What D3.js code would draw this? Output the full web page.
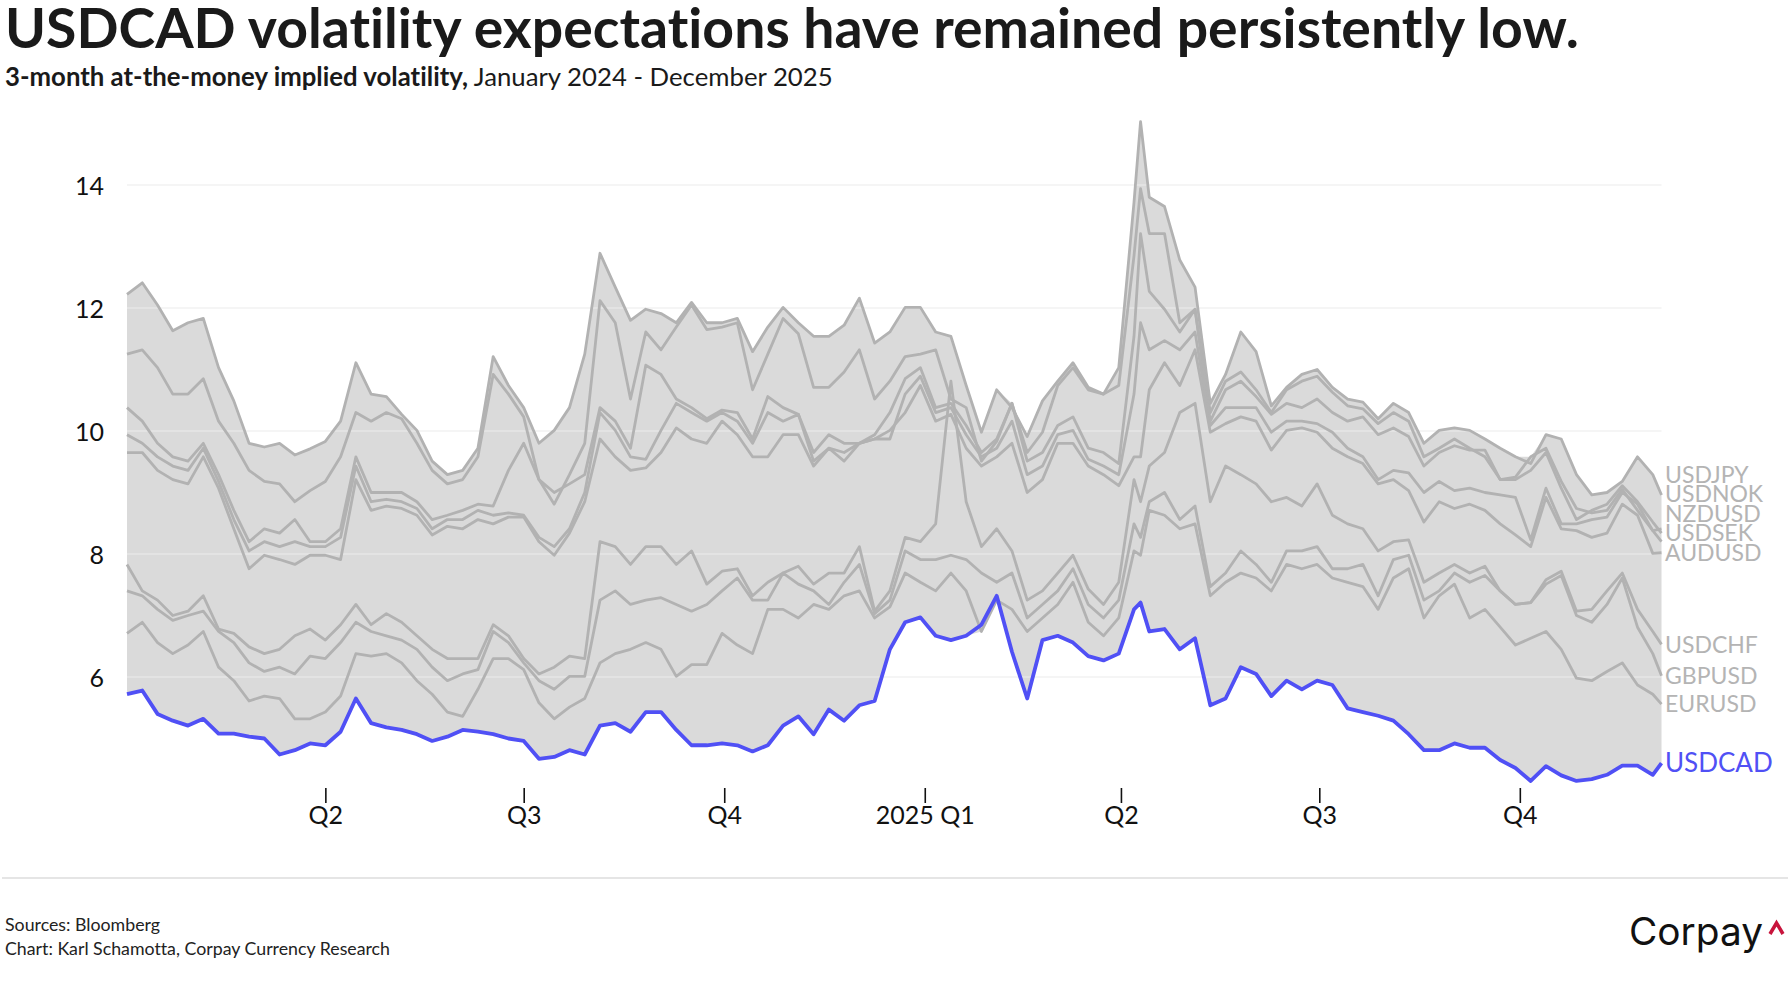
<!DOCTYPE html>
<html>
<head>
<meta charset="utf-8">
<script src="https://cdn.jsdelivr.net/npm/d3@7"></script>
<style>
  body { margin: 0; background: #fff; }
  svg { display: block; font-family: Lato, "Noto Sans", sans-serif; }
  svg text { font-variant-ligatures: none; font-feature-settings: "liga" 0, "clig" 0, "dlig" 0, "calt" 0; }
</style>
</head>
<body>
<svg id="chart" width="1790" height="1000"></svg>
<script>
// weekly samples (Mondays) plus the April 2025 spike and the last print
const dates = [
  "2024-01-01","2024-01-08","2024-01-15","2024-01-22","2024-01-29","2024-02-05","2024-02-12","2024-02-19","2024-02-26",
  "2024-03-04","2024-03-11","2024-03-18","2024-03-25","2024-04-01","2024-04-08","2024-04-15","2024-04-22","2024-04-29",
  "2024-05-06","2024-05-13","2024-05-20","2024-05-27","2024-06-03","2024-06-10","2024-06-17","2024-06-24","2024-07-01",
  "2024-07-08","2024-07-15","2024-07-22","2024-07-29","2024-08-05","2024-08-12","2024-08-19","2024-08-26","2024-09-02",
  "2024-09-09","2024-09-16","2024-09-23","2024-09-30","2024-10-07","2024-10-14","2024-10-21","2024-10-28","2024-11-04",
  "2024-11-11","2024-11-18","2024-11-25","2024-12-02","2024-12-09","2024-12-16","2024-12-23","2024-12-30",
  "2025-01-06","2025-01-13","2025-01-20","2025-01-27","2025-02-03","2025-02-10","2025-02-17","2025-02-24","2025-03-03",
  "2025-03-10","2025-03-17","2025-03-24","2025-03-31","2025-04-07","2025-04-10","2025-04-14","2025-04-21","2025-04-28",
  "2025-05-05","2025-05-12","2025-05-19","2025-05-26","2025-06-02","2025-06-09","2025-06-16","2025-06-23","2025-06-30",
  "2025-07-07","2025-07-14","2025-07-21","2025-07-28","2025-08-04","2025-08-11","2025-08-18","2025-08-25","2025-09-01",
  "2025-09-08","2025-09-15","2025-09-22","2025-09-29","2025-10-06","2025-10-13","2025-10-20","2025-10-27","2025-11-03",
  "2025-11-10","2025-11-17","2025-11-24","2025-12-01","2025-12-05"
];

const usdjpy = [12.22,12.41,12.05,11.63,11.76,11.83,11.03,10.49,9.8,9.74,9.8,9.61,9.71,9.83,10.16,11.11,10.6,10.56,10.27,10.01,
  9.51,9.29,9.36,9.72,11.21,10.74,10.38,9.8,10.01,10.38,11.25,12.89,12.34,11.8,11.98,11.91,11.76,12.09,11.76,11.76,
  11.83,11.29,11.69,12.01,11.76,11.54,11.54,11.72,12.16,11.43,11.61,12.01,12.01,11.61,11.54,10.74,9.98,10.67,10.38,9.91,
  10.49,10.81,11.11,10.71,10.6,11.03,13.72,15.03,13.8,13.65,12.78,12.34,10.45,10.92,11.61,11.29,10.41,10.71,10.92,11.0,10.71,
  10.52,10.47,10.2,10.45,10.3,9.8,10.01,10.05,10.01,9.87,9.72,9.58,9.47,9.94,9.87,9.29,8.96,9.0,9.18,9.58,9.29,8.96];
const usdnok = [11.25,11.32,11.03,10.6,10.6,10.85,10.16,9.8,9.36,9.18,9.14,8.85,9.03,9.18,9.58,10.3,10.16,10.3,10.2,9.8,
  9.36,9.14,9.21,9.58,10.92,10.6,10.23,9.21,8.81,9.29,9.8,12.12,11.76,10.52,11.61,11.32,11.69,12.05,11.65,11.69,
  11.76,10.67,11.25,11.83,11.58,10.71,10.71,10.96,11.32,10.52,10.81,11.21,11.25,11.32,10.52,10.38,9.51,9.83,10.45,9.65,
  9.98,10.74,11.03,10.67,10.6,10.74,12.85,13.94,13.21,13.21,11.76,11.98,10.3,10.81,10.96,10.67,10.3,10.67,10.81,10.89,10.63,
  10.41,10.36,10.12,10.3,10.16,9.58,9.72,9.87,9.72,9.58,9.21,9.25,9.58,9.72,9.18,8.74,8.67,8.71,9.05,8.71,8.38,8.41];
const nzdusd = [10.38,10.16,9.8,9.58,9.51,9.8,9.29,8.71,8.2,8.41,8.34,8.56,8.2,8.2,8.41,9.58,9.0,9.0,9.0,8.85,
  8.56,8.63,8.71,8.81,8.78,9.36,9.8,9.21,9.0,9.14,9.29,10.38,10.16,9.72,11.07,10.92,10.52,10.38,10.2,10.34,
  10.3,9.87,10.56,10.38,10.27,9.65,9.94,9.8,9.8,9.94,10.3,10.85,11.03,10.38,10.45,10.09,9.65,9.87,10.45,9.51,
  9.65,10.09,10.23,9.72,9.65,9.47,11.54,13.21,12.27,11.98,11.61,11.98,10.16,10.67,10.81,10.56,10.27,10.45,10.38,10.52,10.3,
  10.16,10.23,9.94,10.05,9.91,9.43,9.65,9.76,9.69,9.69,9.21,9.21,9.36,9.65,9.07,8.56,8.71,8.81,9.11,8.85,8.52,8.34];
const usdsek = [9.94,9.8,9.58,9.43,9.36,9.72,9.18,8.56,8.05,8.2,8.12,8.2,8.12,8.12,8.27,9.43,8.85,8.89,8.85,8.74,
  8.41,8.56,8.56,8.71,8.63,8.67,8.63,8.27,8.12,8.41,9.0,10.3,10.01,9.58,9.54,10.01,10.45,10.3,10.16,10.3,
  10.16,9.8,10.3,10.16,10.27,9.51,9.72,9.65,9.8,9.87,9.87,10.6,10.89,10.3,10.38,9.94,9.58,9.72,10.16,9.29,
  9.43,9.94,10.01,9.54,9.43,9.29,10.6,11.76,11.32,11.47,11.32,11.61,10.09,10.38,10.38,10.38,9.98,10.16,10.16,10.12,9.98,
  9.72,9.58,9.21,9.36,9.32,9.0,9.18,9.03,9.07,9.0,8.96,8.92,8.23,9.07,8.49,8.49,8.56,8.6,9.0,8.81,8.38,8.2];
const audusd = [9.65,9.65,9.36,9.21,9.14,9.58,9.07,8.41,7.76,7.98,7.91,7.83,7.98,7.98,7.91,9.21,8.71,8.78,8.74,8.63,
  8.31,8.45,8.41,8.56,8.49,8.6,8.6,8.2,7.98,8.34,8.85,9.87,9.58,9.36,9.4,9.65,10.05,9.87,9.8,10.16,
  9.94,9.58,9.58,9.94,9.94,9.43,9.72,9.51,9.8,9.87,10.01,10.3,10.74,10.16,10.27,9.72,9.43,9.58,9.8,9.0,
  9.21,9.8,9.8,9.43,9.29,9.11,9.58,9.58,10.67,11.11,10.74,11.32,9.98,10.12,10.23,10.16,9.69,10.01,10.05,9.98,9.72,
  9.58,9.47,9.14,9.21,9.03,8.52,8.85,8.74,8.81,8.71,8.49,8.31,8.12,8.92,8.41,8.38,8.27,8.34,8.81,8.63,8.01,8.02];
const usdchf = [7.83,7.4,7.25,7.0,7.07,7.32,6.78,6.71,6.49,6.38,6.45,6.67,6.78,6.6,6.85,7.18,6.85,7.03,6.89,6.67,
  6.45,6.3,6.3,6.3,6.85,6.67,6.3,6.05,6.16,6.34,6.3,8.2,8.12,7.83,8.12,8.12,7.83,8.05,7.51,7.72,
  7.76,7.32,7.54,7.69,7.8,7.51,7.69,7.69,8.12,7.07,7.4,8.27,8.2,8.49,10.81,8.85,8.12,8.41,8.05,7.25,
  7.4,7.69,7.98,7.43,7.18,7.54,9.21,8.85,9.43,9.65,10.3,10.45,8.85,9.43,9.29,9.14,8.85,8.92,8.78,9.14,8.63,
  8.49,8.41,8.05,8.2,8.23,7.54,7.69,7.83,7.69,7.8,7.4,7.18,7.21,7.58,7.72,7.07,7.1,7.4,7.69,7.1,6.74,6.53];
const gbpusd = [7.4,7.32,7.1,6.92,7.0,7.07,6.74,6.56,6.23,6.09,6.16,6.05,6.34,6.3,6.56,6.89,6.74,6.67,6.6,6.45,
  6.16,5.94,6.05,6.12,6.74,6.56,6.23,5.94,5.8,6.01,6.01,7.25,7.4,7.18,7.25,7.29,7.18,7.07,7.18,7.4,
  7.61,7.25,7.25,7.69,7.51,7.4,7.18,7.54,7.83,7.03,7.25,8.05,7.91,7.91,7.98,7.91,7.69,7.54,7.69,6.96,
  7.18,7.4,7.76,7.18,6.96,7.25,8.49,8.27,8.85,9.0,8.56,8.78,7.47,7.69,8.05,7.83,7.54,8.05,8.05,8.12,7.76,
  7.76,7.83,7.32,7.91,7.98,7.25,7.4,7.69,7.54,7.65,7.4,7.18,7.21,7.51,7.65,7.0,6.89,7.18,7.61,6.81,6.38,6.02];
const eurusd = [6.71,6.89,6.56,6.38,6.52,6.74,6.16,5.94,5.61,5.69,5.65,5.32,5.32,5.43,5.69,6.38,6.34,6.38,6.23,5.94,
  5.72,5.43,5.36,5.8,6.3,6.3,6.12,5.58,5.32,5.51,5.65,6.23,6.38,6.45,6.56,6.45,6.01,6.2,6.2,6.71,
  6.52,6.38,7.1,7.1,6.96,7.18,7.1,7.32,7.4,6.96,7.14,7.69,7.54,7.4,7.69,7.4,6.74,7.25,7.1,6.74,
  6.96,7.18,7.54,6.89,6.67,6.96,8.05,7.98,8.71,8.63,8.41,8.49,7.32,7.54,7.69,7.61,7.4,7.83,7.76,7.83,7.61,
  7.54,7.47,7.1,7.61,7.76,6.96,7.32,7.51,6.96,7.1,6.81,6.52,6.63,6.74,6.45,5.98,5.94,6.09,6.23,5.87,5.72,5.56];
const usdcad = [5.72,5.78,5.4,5.29,5.21,5.32,5.08,5.08,5.03,5.0,4.74,4.81,4.92,4.89,5.11,5.65,5.25,5.18,5.14,5.07,
  4.96,5.03,5.14,5.11,5.07,5.0,4.96,4.67,4.7,4.81,4.74,5.21,5.25,5.11,5.43,5.43,5.14,4.89,4.89,4.92,
  4.89,4.79,4.89,5.21,5.36,5.07,5.47,5.29,5.54,5.61,6.45,6.89,6.97,6.67,6.6,6.67,6.85,7.32,6.41,5.65,
  6.6,6.67,6.56,6.34,6.27,6.38,7.1,7.21,6.74,6.78,6.45,6.63,5.54,5.65,6.16,6.05,5.69,5.94,5.8,5.94,5.87,
  5.49,5.43,5.37,5.29,5.07,4.81,4.81,4.92,4.85,4.85,4.65,4.52,4.31,4.55,4.4,4.31,4.34,4.41,4.56,4.56,4.41,4.6];

const greyNames = ["USDJPY", "USDNOK", "NZDUSD", "USDSEK", "AUDUSD", "USDCHF", "GBPUSD", "EURUSD"];
const greyValues = [usdjpy, usdnok, nzdusd, usdsek, audusd, usdchf, gbpusd, eurusd];

const yTicks = [6, 8, 10, 12, 14];
const quarterDates = ["2024-04-01", "2024-07-01", "2024-10-01", "2025-01-01", "2025-04-01", "2025-07-01", "2025-10-01"];
const quarterLabels = ["Q2", "Q3", "Q4", "2025 Q1", "Q2", "Q3", "Q4"];

const parse = d3.timeParse("%Y-%m-%d");
const days = dates.map(parse);

const svg = d3.select("#chart");
const left = 127, right = 1661.5;

const x = d3.scaleTime()
    .domain(d3.extent(days))
    .range([left, right]);

const y = d3.scaleLinear()
    .domain([6, 14])
    .range([677, 185]);

// envelope of all nine series
const allSeries = greyValues.concat([usdcad]);
const band = days.map((d, i) => ({
    date: d,
    lo: d3.min(allSeries, s => s[i]),
    hi: d3.max(allSeries, s => s[i])
}));

svg.append("path")
    .datum(band)
    .attr("fill", "#dadada")
    .attr("d", d3.area()
        .x(d => x(d.date))
        .y0(d => y(d.lo))
        .y1(d => y(d.hi)));

// gridlines
svg.append("g")
    .selectAll("line")
    .data(yTicks)
    .join("line")
    .attr("x1", left)
    .attr("x2", right)
    .attr("y1", d => y(d))
    .attr("y2", d => y(d))
    .attr("stroke", "#ebebeb")
    .attr("stroke-width", 1.2);

// y axis labels
const yAxis = svg.append("g")
    .attr("transform", "translate(104,0)")
    .call(d3.axisLeft(y).tickValues(yTicks).tickSize(0).tickPadding(0));
yAxis.select(".domain").remove();
yAxis.selectAll("text")
    .attr("font-family", "Lato, 'Noto Sans', sans-serif")
    .attr("font-size", 25)
    .attr("fill", "#111")
    .attr("dy", "0.36em");

// x axis
const xAxis = svg.append("g")
    .attr("transform", "translate(0,788)")
    .call(d3.axisBottom(x)
        .tickValues(quarterDates.map(parse))
        .tickFormat((d, i) => quarterLabels[i])
        .tickSize(15));
xAxis.select(".domain").remove();
xAxis.selectAll(".tick line")
    .attr("stroke", "#111")
    .attr("stroke-width", 1.6);
xAxis.selectAll("text")
    .attr("font-family", "Lato, 'Noto Sans', sans-serif")
    .attr("font-size", 25)
    .attr("fill", "#111")
    .attr("y", 36)
    .attr("dy", 0);

// lines
const line = d3.line()
    .x((d, i) => x(days[i]))
    .y(d => y(d));

svg.append("g")
    .selectAll("path")
    .data(greyValues)
    .join("path")
    .attr("fill", "none")
    .attr("stroke", "#b2b2b2")
    .attr("stroke-width", 2.8)
    .attr("stroke-linejoin", "round")
    .attr("d", line);

svg.append("path")
    .datum(usdcad)
    .attr("fill", "none")
    .attr("stroke", "#5050f5")
    .attr("stroke-width", 3.8)
    .attr("stroke-linejoin", "round")
    .attr("d", line);

// end labels, stacked upward from the lowest so they do not overlap
const labels = greyNames.map((n, i) => ({ name: n, end: greyValues[i][greyValues[i].length - 1], color: "#b4b4b4", size: 23 }));
labels.push({ name: "USDCAD", end: usdcad[usdcad.length - 1], color: "#5050f5", size: 26 });
labels.sort((a, b) => a.end - b.end);
let prev = Infinity;
labels.forEach(l => {
    l.y = Math.min(y(l.end), prev - 19.6);
    prev = l.y;
});

svg.append("g")
    .selectAll("text")
    .data(labels)
    .join("text")
    .attr("x", 1665)
    .attr("y", d => d.y)
    .attr("dy", "0.36em")
    .attr("font-size", d => d.size)
    .attr("fill", d => d.color)
    .text(d => d.name);

// titles
function fitWidth(sel, target) {
    const w = sel.node().getComputedTextLength();
    const fs = parseFloat(sel.attr("font-size"));
    sel.attr("font-size", fs * target / w);
}

const title = svg.append("text")
    .attr("x", 5)
    .attr("y", 48)
    .attr("font-size", 58)
    .attr("font-weight", 700)
    .attr("letter-spacing", "0.01px")
    .attr("fill", "#1a1a1a")
    .text("USDCAD volatility expectations have remained persistently low.");
fitWidth(title, 1574);

const subtitle = svg.append("text")
    .attr("x", 5)
    .attr("y", 86)
    .attr("font-size", 24)
    .attr("letter-spacing", "0.01px")
    .attr("fill", "#1a1a1a");
subtitle.append("tspan").attr("font-weight", 700).text("3-month at-the-money implied volatility,");
subtitle.append("tspan").attr("font-weight", 400).text(" January 2024 - December 2025");
fitWidth(subtitle, 828);

// footer
svg.append("line")
    .attr("x1", 2)
    .attr("x2", 1788)
    .attr("y1", 878)
    .attr("y2", 878)
    .attr("stroke", "#dcdcdc")
    .attr("stroke-width", 1.5);

const src = svg.append("text")
    .attr("x", 5)
    .attr("y", 931)
    .attr("font-size", 18)
    .attr("fill", "#222")
    .text("Sources: Bloomberg");
const credit = svg.append("text")
    .attr("x", 5)
    .attr("y", 955)
    .attr("font-size", 18)
    .attr("fill", "#222")
    .text("Chart: Karl Schamotta, Corpay Currency Research");
fitWidth(credit, 385);
src.attr("font-size", credit.attr("font-size"));

const logo = svg.append("text")
    .attr("x", 1629)
    .attr("y", 945)
    .attr("font-family", "Inter, 'Liberation Sans', sans-serif")
    .attr("font-size", 35)
    .attr("fill", "#111")
    .text("Corpay");
fitWidth(logo, 134);

svg.append("polyline")
    .attr("points", "1770,934 1776.5,923 1783,934")
    .attr("fill", "none")
    .attr("stroke", "#c8143c")
    .attr("stroke-width", 3.5)
    .attr("stroke-linejoin", "miter");
</script>
</body>
</html>
